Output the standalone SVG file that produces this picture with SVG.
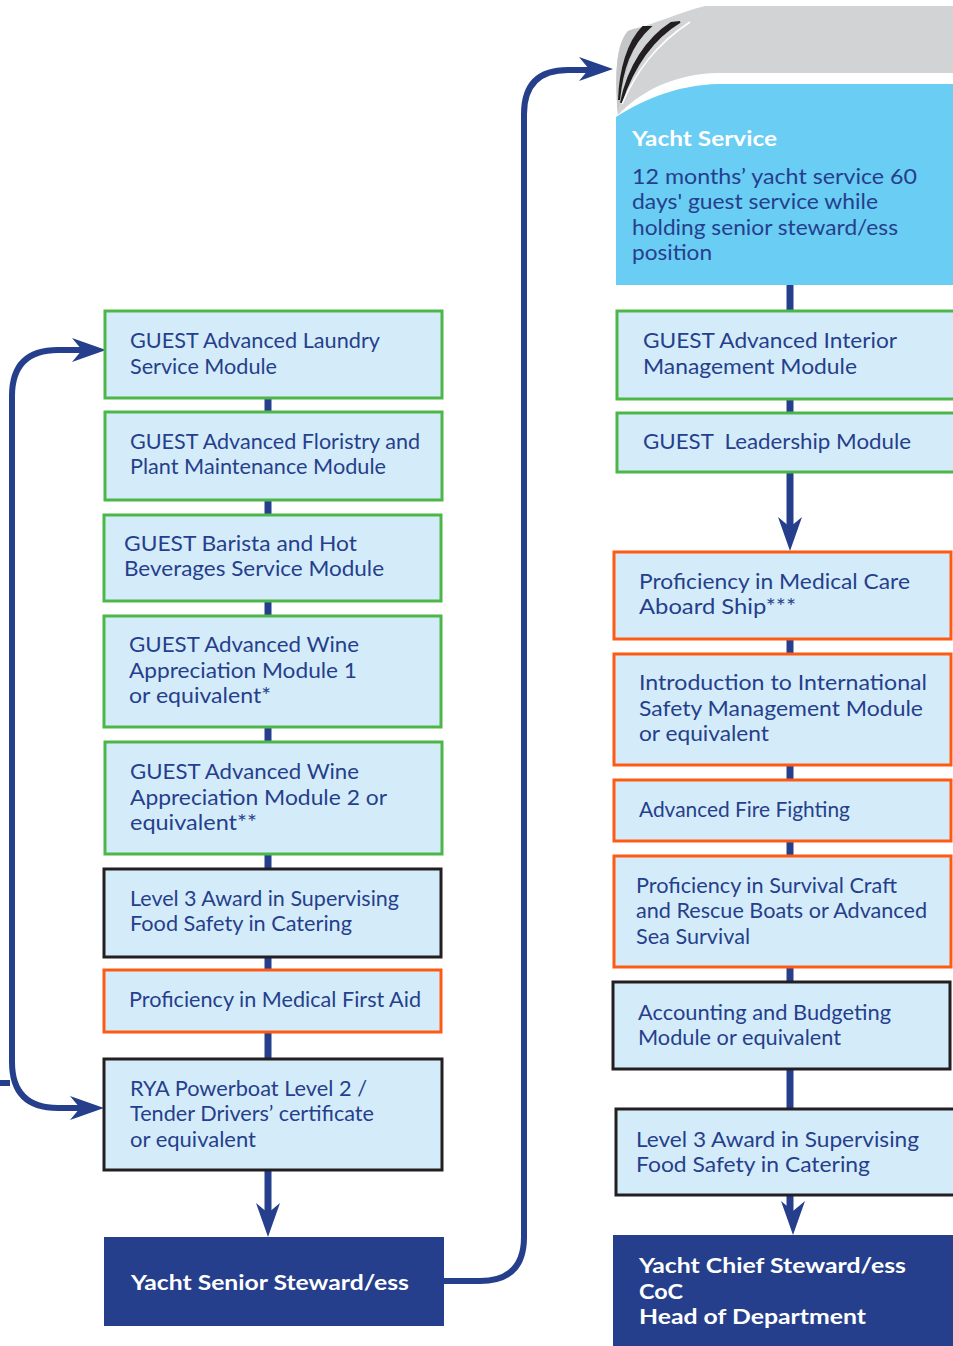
<svg xmlns="http://www.w3.org/2000/svg" width="953" height="1346" viewBox="0 0 953 1346">
<style>
.box{fill:#d4ecf9;stroke-width:3}
.g{stroke:#4cb748}
.o{stroke:#ff5a14}
.k{stroke:#231f20}
.dark{fill:#263f8c}
.t{font-family:Lato,"Open Sans",sans-serif;font-size:20.8px;fill:#263f8c}
.w{font-family:Lato,"Open Sans",sans-serif;font-size:20.8px;font-weight:bold;fill:#ffffff}
.ln{stroke:#263f8c;stroke-width:7;fill:none}
.lp{stroke:#263f8c;stroke-width:6;fill:none}
.ah{fill:#263f8c}
</style>
<defs>
<path id="adown" d="M0,0 L-12,-34 L0,-24 L12,-34 Z"/>
<path id="aright" d="M0,0 L-34,-12 L-24,0 L-34,12 Z"/>
</defs>
<rect width="953" height="1346" fill="#ffffff"/>

<g id="connectors">
<line class="ln" x1="268" y1="398" x2="268" y2="412"/>
<line class="ln" x1="268" y1="500" x2="268" y2="515"/>
<line class="ln" x1="268" y1="601" x2="268" y2="616"/>
<line class="ln" x1="268" y1="727" x2="268" y2="742"/>
<line class="ln" x1="268" y1="854" x2="268" y2="869"/>
<line class="ln" x1="268" y1="957" x2="268" y2="970"/>
<line class="ln" x1="268" y1="1032" x2="268" y2="1059"/>
<line class="ln" x1="268" y1="1170" x2="268" y2="1215"/>
<use href="#adown" class="ah" x="268" y="1237"/>
<line class="ln" x1="790" y1="285" x2="790" y2="311"/>
<line class="ln" x1="790" y1="399" x2="790" y2="413"/>
<line class="ln" x1="790" y1="472" x2="790" y2="528"/>
<use href="#adown" class="ah" x="790" y="551"/>
<line class="ln" x1="790" y1="639" x2="790" y2="654"/>
<line class="ln" x1="790" y1="765" x2="790" y2="780"/>
<line class="ln" x1="790" y1="841" x2="790" y2="856"/>
<line class="ln" x1="790" y1="967" x2="790" y2="982"/>
<line class="ln" x1="790" y1="1069" x2="790" y2="1109"/>
<line class="ln" x1="790" y1="1195" x2="790" y2="1213"/>
<use href="#adown" class="ah" x="793" y="1235"/>
<path class="lp" d="M84,350 H58 Q12,350 12,396 V1062 Q12,1108 58,1108 H84"/>
<use href="#aright" class="ah" x="106" y="350"/>
<use href="#aright" class="ah" x="104" y="1108"/>
<path class="lp" d="M0,1083 H10"/>
<path class="lp" d="M444,1281 H480 Q524,1281 524,1237 V114 Q524,70 568,70 H592"/>
<use href="#aright" class="ah" x="613" y="69"/>
</g>

<g id="n-laundry">
<rect class="box g" x="105" y="311" width="337" height="87"/>
<text class="t" x="130" y="348" textLength="250" lengthAdjust="spacingAndGlyphs">GUEST Advanced Laundry</text>
<text class="t" x="130" y="374" textLength="147" lengthAdjust="spacingAndGlyphs">Service Module</text>
</g>
<g id="n-floristry">
<rect class="box g" x="105" y="412" width="337" height="88"/>
<text class="t" x="130" y="449" textLength="290" lengthAdjust="spacingAndGlyphs">GUEST Advanced Floristry and</text>
<text class="t" x="130" y="474" textLength="256" lengthAdjust="spacingAndGlyphs">Plant Maintenance Module</text>
</g>
<g id="n-barista">
<rect class="box g" x="104" y="515" width="337" height="86"/>
<text class="t" x="124" y="551" textLength="233" lengthAdjust="spacingAndGlyphs">GUEST Barista and Hot</text>
<text class="t" x="124" y="576" textLength="260" lengthAdjust="spacingAndGlyphs">Beverages Service Module</text>
</g>
<g id="n-wine1">
<rect class="box g" x="104" y="616" width="337" height="111"/>
<text class="t" x="129" y="652" textLength="230" lengthAdjust="spacingAndGlyphs">GUEST Advanced Wine</text>
<text class="t" x="129" y="678" textLength="228" lengthAdjust="spacingAndGlyphs">Appreciation Module 1</text>
<text class="t" x="129" y="703" textLength="142" lengthAdjust="spacingAndGlyphs">or equivalent*</text>
</g>
<g id="n-wine2">
<rect class="box g" x="105" y="742" width="337" height="112"/>
<text class="t" x="130" y="779" textLength="229" lengthAdjust="spacingAndGlyphs">GUEST Advanced Wine</text>
<text class="t" x="130" y="805" textLength="257" lengthAdjust="spacingAndGlyphs">Appreciation Module 2 or</text>
<text class="t" x="130" y="830" textLength="127" lengthAdjust="spacingAndGlyphs">equivalent**</text>
</g>
<g id="n-food-left">
<rect class="box k" x="104" y="869" width="337" height="88"/>
<text class="t" x="130" y="906" textLength="269" lengthAdjust="spacingAndGlyphs">Level 3 Award in Supervising</text>
<text class="t" x="130" y="931" textLength="222" lengthAdjust="spacingAndGlyphs">Food Safety in Catering</text>
</g>
<g id="n-firstaid">
<rect class="box o" x="104" y="970" width="337" height="62"/>
<text class="t" x="129" y="1007" textLength="292" lengthAdjust="spacingAndGlyphs">Proficiency in Medical First Aid</text>
</g>
<g id="n-rya">
<rect class="box k" x="104" y="1059" width="338" height="111"/>
<text class="t" x="130" y="1096" textLength="237" lengthAdjust="spacingAndGlyphs">RYA Powerboat Level 2 /</text>
<text class="t" x="130" y="1121" textLength="244" lengthAdjust="spacingAndGlyphs">Tender Drivers’ certificate</text>
<text class="t" x="130" y="1147" textLength="126" lengthAdjust="spacingAndGlyphs">or equivalent</text>
</g>
<g id="n-senior">
<rect class="dark" x="104" y="1237" width="340" height="89"/>
<text class="w" x="131" y="1290" textLength="278" lengthAdjust="spacingAndGlyphs">Yacht Senior Steward/ess</text>
</g>

<g id="n-yachtservice">
<path d="M953,84 V285 H616 V117 C645,98 680,85 718,84 Z" fill="#69cdf4"/>
<path d="M705,6 H953 V73 H718 C675,74 642,90 618,115 C615,80 615,45 628,31 C655,24 680,12 705,6 Z" fill="#d1d3d5"/>
<path d="M618,115 C615,80 615,45 628,31 C636,27 645,27 650,27 C634,42 624,70 618,115 Z" fill="#c4c6c8"/>
<path d="M619,100 C622,70 630,45 650,27 L643,27 C628,42 620,70 619,100 Z" fill="#231f20" stroke="#231f20" stroke-width="2"/>
<path d="M621,103 C632,70 650,40 680,22 L671,23 C648,38 628,66 621,103 Z" fill="#231f20" stroke="#231f20" stroke-width="2"/>
<path d="M622,104 C636,72 655,45 690,22" fill="none" stroke="#ffffff" stroke-width="1.5"/>
<text class="w" x="632" y="146" textLength="145" lengthAdjust="spacingAndGlyphs">Yacht Service</text>
<text class="t" x="632" y="184" textLength="285" lengthAdjust="spacingAndGlyphs">12 months’ yacht service 60</text>
<text class="t" x="632" y="209" textLength="246" lengthAdjust="spacingAndGlyphs">days' guest service while</text>
<text class="t" x="632" y="235" textLength="266" lengthAdjust="spacingAndGlyphs">holding senior steward/ess</text>
<text class="t" x="632" y="260" textLength="80" lengthAdjust="spacingAndGlyphs">position</text>
</g>
<g id="n-interior">
<rect class="box g" x="617" y="311" width="340" height="88"/>
<text class="t" x="643" y="348" textLength="254" lengthAdjust="spacingAndGlyphs">GUEST Advanced Interior</text>
<text class="t" x="643" y="374" textLength="214" lengthAdjust="spacingAndGlyphs">Management Module</text>
</g>
<g id="n-leadership">
<rect class="box g" x="617" y="413" width="340" height="59"/>
<text class="t" x="643" y="449" textLength="268" lengthAdjust="spacingAndGlyphs" style="white-space:pre">GUEST  Leadership Module</text>
</g>
<g id="n-medcare">
<rect class="box o" x="614" y="552" width="337" height="87"/>
<text class="t" x="639" y="589" textLength="271" lengthAdjust="spacingAndGlyphs">Proficiency in Medical Care</text>
<text class="t" x="639" y="614" textLength="157" lengthAdjust="spacingAndGlyphs">Aboard Ship***</text>
</g>
<g id="n-ism">
<rect class="box o" x="614" y="654" width="337" height="111"/>
<text class="t" x="639" y="690" textLength="288" lengthAdjust="spacingAndGlyphs">Introduction to International</text>
<text class="t" x="639" y="716" textLength="284" lengthAdjust="spacingAndGlyphs">Safety Management Module</text>
<text class="t" x="639" y="741" textLength="130" lengthAdjust="spacingAndGlyphs">or equivalent</text>
</g>
<g id="n-fire">
<rect class="box o" x="614" y="780" width="337" height="61"/>
<text class="t" x="639" y="817" textLength="211" lengthAdjust="spacingAndGlyphs">Advanced Fire Fighting</text>
</g>
<g id="n-survival">
<rect class="box o" x="614" y="856" width="337" height="111"/>
<text class="t" x="636" y="893" textLength="261" lengthAdjust="spacingAndGlyphs">Proficiency in Survival Craft</text>
<text class="t" x="636" y="918" textLength="291" lengthAdjust="spacingAndGlyphs">and Rescue Boats or Advanced</text>
<text class="t" x="636" y="944" textLength="114" lengthAdjust="spacingAndGlyphs">Sea Survival</text>
</g>
<g id="n-accounting">
<rect class="box k" x="613" y="982" width="337" height="87"/>
<text class="t" x="638" y="1020" textLength="253" lengthAdjust="spacingAndGlyphs">Accounting and Budgeting</text>
<text class="t" x="638" y="1045" textLength="203" lengthAdjust="spacingAndGlyphs">Module or equivalent</text>
</g>
<g id="n-food-right">
<rect class="box k" x="616" y="1109" width="340" height="86"/>
<text class="t" x="636" y="1147" textLength="283" lengthAdjust="spacingAndGlyphs">Level 3 Award in Supervising</text>
<text class="t" x="636" y="1172" textLength="234" lengthAdjust="spacingAndGlyphs">Food Safety in Catering</text>
</g>
<g id="n-chief">
<rect class="dark" x="613" y="1235" width="342" height="112"/>
<text class="w" x="639" y="1273" textLength="267" lengthAdjust="spacingAndGlyphs">Yacht Chief Steward/ess</text>
<text class="w" x="639" y="1299" textLength="44" lengthAdjust="spacingAndGlyphs">CoC</text>
<text class="w" x="639" y="1324" textLength="227" lengthAdjust="spacingAndGlyphs">Head of Department</text>
</g>
</svg>
